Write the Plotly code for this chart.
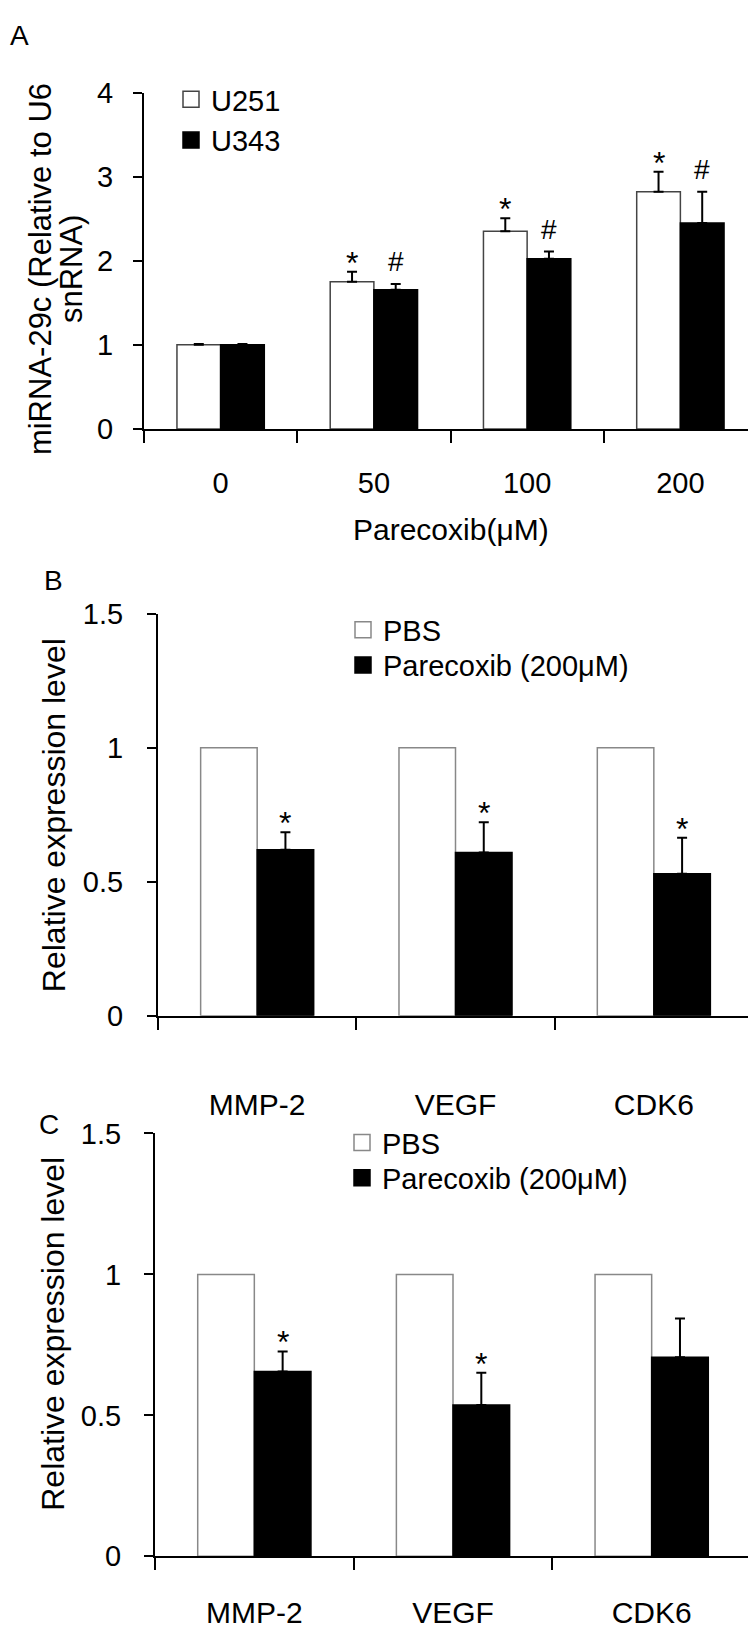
import plotly.graph_objects as go

# ---- data -------------------------------------------------------------
doses = ["0", "50", "100", "200"]
u251 = [1.0, 1.75, 2.35, 2.82]
u251_err = [0.01, 0.12, 0.155, 0.24]
u251_sig = ["", "*", "*", "*"]
u343 = [1.0, 1.655, 2.025, 2.45]
u343_err = [0.01, 0.07, 0.085, 0.37]
u343_sig = ["", "#", "#", "#"]

genes = ["MMP-2", "VEGF", "CDK6"]
pbs_b = [1.0, 1.0, 1.0]
pbs_b_err = [0.0, 0.0, 0.0]
parecoxib_b = [0.62, 0.61, 0.53]
parecoxib_b_err = [0.065, 0.112, 0.135]
sig_b = ["*", "*", "*"]

pbs_c = [1.0, 1.0, 1.0]
pbs_c_err = [0.0, 0.0, 0.0]
parecoxib_c = [0.656, 0.537, 0.706]
parecoxib_c_err = [0.071, 0.114, 0.138]
sig_c = ["*", "*", ""]

ticks_a = [0, 1, 2, 3, 4]
ticks_bc = [0, 0.5, 1, 1.5]
ticktext_bc = ["0", "0.5", "1", "1.5"]

# ---- layout helpers (figure is 756 x 1630 px) -------------------------
W, H = 756, 1630
FONT = "Arial, Liberation Sans, sans-serif"
BARGAP = 0.43


def px(x):
    return x / W


def py(y):
    return 1 - y / H


fig = go.Figure()


def add_pair(xa, ya, cats, v1, e1, v2, e2, name1, name2, legends, edge1):
    for vals, errs, fill, edge, name, leg in [
            (v1, e1, "white", edge1, name1, legends[0]),
            (v2, e2, "black", "black", name2, legends[1])]:
        fig.add_trace(go.Bar(
            x=cats, y=vals, xaxis=xa, yaxis=ya, showlegend=False,
            marker=dict(color=fill, line=dict(color=edge, width=1.5)),
            error_y=dict(type="data", array=errs, arrayminus=[0] * len(errs),
                         symmetric=False, color="black", thickness=2, width=5,
                         visible=any(errs)),
        ))
        # legend-only entry with a bigger square than the bar icon
        fig.add_trace(go.Scatter(
            x=[None], y=[None], mode="markers", name=name, legend=leg,
            marker=dict(symbol="square", size=16, color=fill,
                        line=dict(color=edge, width=1.5)),
        ))


def add_marks(xref, yref, vals, errs, marks, offset):
    for i, (v, e, m) in enumerate(zip(vals, errs, marks)):
        if not m:
            continue
        star = m == "*"
        fig.add_annotation(
            x=i + offset, y=v + e, xref=xref, yref=yref, text=m,
            showarrow=False, yanchor="middle",
            yshift=9 if star else 22,
            font=dict(size=32 if star else 28, color="black", family=FONT),
        )


half = (1 - BARGAP) / 4

# panel A
add_pair("x", "y", doses, u251, u251_err, u343, u343_err,
         "U251", "U343", ["legend", "legend"], "#444444")
add_marks("x", "y", u251, u251_err, u251_sig, -half)
add_marks("x", "y", u343, u343_err, u343_sig, half)

# panel B
add_pair("x2", "y2", genes, pbs_b, pbs_b_err, parecoxib_b, parecoxib_b_err,
         "PBS", "Parecoxib (200μM)", ["legend2", "legend3"], "#888888")
add_marks("x2", "y2", parecoxib_b, parecoxib_b_err, sig_b, half)

# panel C
add_pair("x3", "y3", genes, pbs_c, pbs_c_err, parecoxib_c, parecoxib_c_err,
         "PBS", "Parecoxib (200μM)", ["legend4", "legend5"], "#888888")
add_marks("x3", "y3", parecoxib_c, parecoxib_c_err, sig_c, half)

axis_common = dict(showline=True, linecolor="black", linewidth=2,
                   ticks="outside", tickwidth=2, tickcolor="black",
                   showgrid=False, zeroline=False, fixedrange=True,
                   tickfont=dict(size=29, color="black", family=FONT))

xa = dict(axis_common, type="category", tickson="boundaries", ticklen=12)
ya = dict(axis_common, ticklen=9)
gene_font = dict(size=30, color="black", family=FONT)

legend_common = dict(bgcolor="rgba(0,0,0,0)", borderwidth=0, xanchor="left",
                     yanchor="top", itemwidth=30, tracegroupgap=0,
                     font=dict(size=29, color="black", family=FONT))

fig.update_layout(
    width=W, height=H,
    margin=dict(l=0, r=0, t=0, b=0),
    paper_bgcolor="white", plot_bgcolor="white",
    barmode="group", bargap=BARGAP, bargroupgap=0,
    font=dict(family=FONT, color="black"),
    xaxis=dict(xa, domain=[px(136), px(749)], anchor="y",
               range=[-0.5, len(doses) - 0.5], ticklabelstandoff=27),
    yaxis=dict(ya, domain=[py(413), py(70)], anchor="x", range=[0, 4],
               tickvals=ticks_a, ticklabelstandoff=14),
    xaxis2=dict(xa, domain=[px(150), px(745)], anchor="y2",
                range=[-0.5, len(genes) - 0.5], ticklabelstandoff=61,
                tickfont=gene_font),
    yaxis2=dict(ya, domain=[py(1011.7), py(601.7)], anchor="x2",
                range=[0, 1.5], tickvals=ticks_bc, ticktext=ticktext_bc,
                ticklabelstandoff=18),
    xaxis3=dict(xa, domain=[px(147), px(743)], anchor="y3",
                range=[-0.5, len(genes) - 0.5], ticklabelstandoff=29,
                tickfont=gene_font),
    yaxis3=dict(ya, domain=[py(1563), py(1131.7)], anchor="x3",
                range=[0, 1.5], tickvals=ticks_bc, ticktext=ticktext_bc,
                ticklabelstandoff=17),
    legend=dict(legend_common, x=px(163), y=py(51)),
    legend2=dict(legend_common, x=px(335), y=py(592)),
    legend3=dict(legend_common, x=px(335), y=py(628)),
    legend4=dict(legend_common, x=px(334), y=py(1115)),
    legend5=dict(legend_common, x=px(334), y=py(1151)),
)

# panel letters and axis titles
texts = [
    ("A", 11, 12, 0, 28),
    ("B", 45, 568, 0, 28),
    ("C", 41, 1123, 0, 28),
    ("miRNA-29c (Relative to U6", 32, 250, -90, 31),
    ("snRNA)", 63, 250, -90, 31),
    ("Parecoxib(μM)", 443, 516, 0, 30),
    ("Relative expression level", 46, 807, -90, 32),
    ("Relative expression level", 45, 1336, -90, 32),
]
for t, x, y, ang, size in texts:
    fig.add_annotation(text=t, x=px(x), y=py(y), xref="paper", yref="paper",
                       xanchor="center", yanchor="middle", textangle=ang,
                       showarrow=False,
                       font=dict(size=size, color="black", family=FONT))

fig.write_html("out.html")
